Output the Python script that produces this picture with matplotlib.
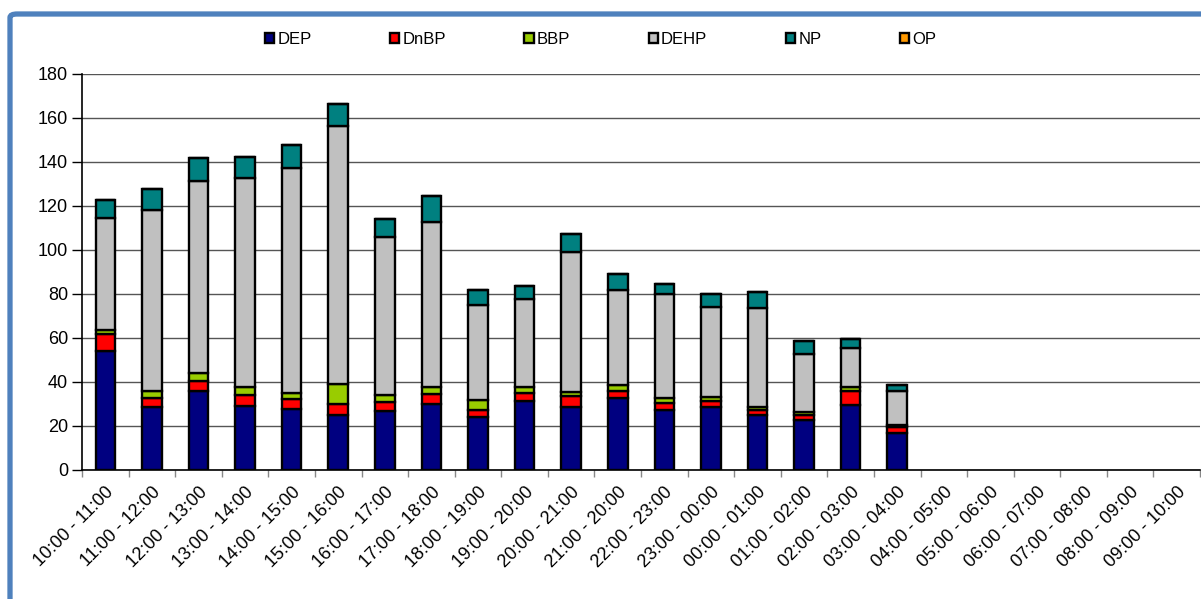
import numpy as np
import matplotlib.pyplot as plt
from matplotlib.patches import FancyBboxPatch

plt.rcParams['font.family'] = ['Liberation Sans', 'DejaVu Sans']

# === data ===
hours = ['10:00 - 11:00', '11:00 - 12:00', '12:00 - 13:00', '13:00 - 14:00',
         '14:00 - 15:00', '15:00 - 16:00', '16:00 - 17:00', '17:00 - 18:00',
         '18:00 - 19:00', '19:00 - 20:00', '20:00 - 21:00', '21:00 - 20:00',
         '22:00 - 23:00', '23:00 - 00:00', '00:00 - 01:00', '01:00 - 02:00',
         '02:00 - 03:00', '03:00 - 04:00', '04:00 - 05:00', '05:00 - 06:00',
         '06:00 - 07:00', '07:00 - 08:00', '08:00 - 09:00', '09:00 - 10:00']

dep = [54.3, 28.5, 36.0, 29.1, 27.9, 24.9, 27.0, 29.9, 24.3, 31.2, 28.8, 32.9,
       27.3, 28.5, 24.9, 22.7, 29.7, 16.7, 0, 0, 0, 0, 0, 0]
dnbp = [7.6, 4.3, 4.5, 5.2, 4.3, 5.1, 4.1, 4.7, 3.0, 4.0, 4.6, 3.2,
        3.0, 3.0, 2.4, 2.5, 6.4, 3.0, 0, 0, 0, 0, 0, 0]
bbp = [1.5, 3.0, 3.5, 3.6, 3.0, 9.1, 3.0, 3.3, 4.5, 2.7, 2.2, 2.6,
       2.3, 1.6, 1.5, 1.3, 1.5, 0.9, 0, 0, 0, 0, 0, 0]
dehp = [51.2, 82.2, 87.3, 94.9, 102.2, 117.1, 71.8, 74.6, 43.4, 39.7, 63.3, 42.9,
        47.2, 40.9, 44.6, 26.3, 17.9, 15.2, 0, 0, 0, 0, 0, 0]
np_ = [8.2, 9.7, 10.3, 9.3, 10.2, 10.0, 8.4, 12.2, 6.7, 6.1, 8.2, 7.6,
       4.8, 6.0, 7.6, 5.7, 3.9, 3.0, 0, 0, 0, 0, 0, 0]
op = [0] * 24

series = ['DEP', 'DnBP', 'BBP', 'DEHP', 'NP', 'OP']
values = [dep, dnbp, bbp, dehp, np_, op]
colors = ['#000080', '#FF0000', '#99CC00', '#C0C0C0', '#008080', '#FF9900']

fig = plt.figure(figsize=(12.01, 5.99), dpi=100)
ax = fig.add_axes([0.0683, 0.2154, 0.9309, 0.6611])

x = np.arange(len(hours))
total = np.sum(np.array(values, dtype=float), axis=0)
edge_lw = np.where(total > 0, 1.7, 0.0)  # no outline on empty hours
bottom = np.zeros(len(hours))
for name, vals, col in zip(series, values, colors):
    vals = np.array(vals, dtype=float)
    ax.bar(x, vals, width=0.42, bottom=bottom, color=col, edgecolor='black',
           linewidth=edge_lw, label=name, zorder=3)
    bottom += vals

ax.set_xlim(-0.5, len(hours) - 0.5)
ax.set_ylim(0, 180)
ax.set_yticks(range(0, 181, 20))
ax.yaxis.grid(True, color='#555555', linewidth=1.0, zorder=0)
ax.tick_params(axis='y', labelsize=13, length=7, width=1, direction='out', pad=3)

ax.set_xticks(x)
ax.set_xticklabels(hours, rotation=45, ha='right', rotation_mode='anchor', fontsize=13)
ax.set_xticks(np.arange(-0.5, len(hours), 1.0), minor=True)
ax.tick_params(axis='x', which='major', length=0, pad=10)
ax.tick_params(axis='x', which='minor', length=5, width=1, color='#888888')

for s in ['top', 'right']:
    ax.spines[s].set_visible(False)
ax.spines['left'].set_linewidth(1.2)
ax.spines['bottom'].set_linewidth(1.2)

leg = fig.legend(loc='center', bbox_to_anchor=(0.5, 1 - 39 / 599), ncol=6, frameon=False,
                 fontsize=12, handlelength=0.55, handleheight=0.55, handletextpad=0.2,
                 columnspacing=4.7, borderaxespad=0)
for h in leg.legend_handles:
    h.set_linewidth(1.7)

# blue chart-area frame (only top/left visible in the crop)
frame = FancyBboxPatch((10 / 1201, -0.2), 1.3, 1 - 14 / 599 + 0.2,
                       boxstyle='round,pad=0,rounding_size=0.006',
                       transform=fig.transFigure, fill=False,
                       edgecolor='#4F81BD', linewidth=3.8, clip_on=False)
fig.patches.append(frame)

fig.savefig('out.png', dpi=100)
